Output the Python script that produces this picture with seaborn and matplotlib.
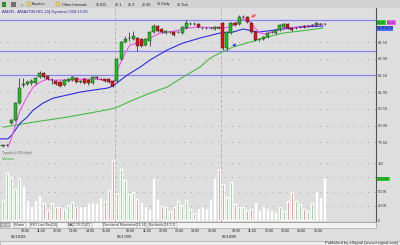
import matplotlib
matplotlib.use("Agg")
import numpy as np
import pandas as pd
import matplotlib.pyplot as plt
from matplotlib.patches import Rectangle
import seaborn as sns

# ---------------- data ----------------
symbol_title = "AMZN - AMAZON INC,15] Dynamic,5/28 15:00"
day_labels = ["06/16/09", "06/17/09", "06/18/09"]
hour_labels = ["10:00", "11:00", "12:00", "13:00", "14:00", "15:00"]
pre_bars = 2          # last two bars of the previous session
bars_per_day = 26     # 15-minute bars 9:30 .. 15:45

opens = [79.40, 79.41,
         80.07, 80.16, 80.67, 81.21, 81.24, 81.27, 81.27, 81.45, 81.57, 81.48, 81.36, 81.33, 81.30,
         81.21, 81.33, 81.36, 81.42, 81.31, 81.39, 81.36, 81.27, 81.45, 81.40, 81.39, 81.39, 81.33,
         81.33, 81.99, 82.50, 82.62, 82.59, 82.62, 82.59, 82.42, 82.53, 82.80, 82.99, 82.89, 82.77,
         82.80, 82.80, 82.80, 82.77, 82.92, 83.04, 83.04, 83.04, 82.92, 82.93, 82.93, 82.89, 82.94,
         83.07, 82.32, 82.77, 83.07, 83.04, 83.25, 83.25, 83.07, 82.80, 82.59, 82.59, 82.65, 82.80,
         82.77, 82.86, 82.95, 83.04, 82.92, 82.92, 82.95, 82.98, 82.98, 83.01, 83.01, 83.04, 83.04]
highs = [79.43, 79.46,
         80.19, 80.70, 81.42, 81.42, 81.36, 81.38, 81.46, 81.63, 81.60, 81.51, 81.42, 81.36, 81.33,
         81.39, 81.42, 81.48, 81.45, 81.36, 81.42, 81.39, 81.48, 81.48, 81.43, 81.42, 81.42, 81.36,
         82.02, 82.53, 82.68, 82.80, 82.83, 82.65, 82.62, 82.62, 82.83, 83.04, 83.02, 82.92, 82.86,
         82.83, 82.83, 82.83, 82.98, 83.16, 83.10, 83.10, 83.07, 82.95, 82.95, 82.95, 82.98, 82.96,
         83.10, 82.83, 83.10, 83.10, 83.31, 83.31, 83.28, 83.10, 82.83, 82.62, 82.68, 82.80, 82.83,
         82.89, 83.04, 83.07, 83.07, 82.95, 82.95, 82.98, 83.01, 83.01, 83.04, 83.10, 83.07, 83.07]
lows = [79.37, 79.39,
        80.04, 80.13, 80.64, 81.15, 81.20, 81.22, 81.24, 81.42, 81.42, 81.35, 81.24, 81.20, 81.15,
        81.18, 81.30, 81.33, 81.27, 81.27, 81.24, 81.22, 81.24, 81.39, 81.36, 81.30, 81.27, 81.15,
        81.30, 81.96, 82.47, 82.54, 82.56, 82.24, 82.36, 82.39, 82.39, 82.77, 82.80, 82.77, 82.74,
        82.77, 82.68, 82.77, 82.74, 82.89, 83.01, 83.01, 82.92, 82.89, 82.89, 82.89, 82.86, 82.88,
        82.26, 82.26, 82.74, 82.98, 83.01, 83.22, 83.07, 82.77, 82.53, 82.53, 82.56, 82.62, 82.77,
        82.74, 82.83, 82.92, 82.89, 82.83, 82.89, 82.92, 82.92, 82.95, 82.98, 82.98, 83.01, 83.01]
closes = [79.41, 79.43,
          80.16, 80.67, 81.12, 81.24, 81.30, 81.33, 81.42, 81.57, 81.45, 81.39, 81.37, 81.24, 81.18,
          81.36, 81.39, 81.45, 81.30, 81.32, 81.27, 81.27, 81.45, 81.42, 81.39, 81.33, 81.30, 81.18,
          81.99, 82.50, 82.59, 82.63, 82.68, 82.39, 82.39, 82.59, 82.80, 82.99, 82.84, 82.80, 82.84,
          82.81, 82.71, 82.81, 82.95, 83.07, 83.05, 83.05, 82.95, 82.93, 82.92, 82.91, 82.95, 82.91,
          82.32, 82.80, 83.07, 83.01, 83.25, 83.26, 83.10, 82.80, 82.56, 82.58, 82.65, 82.77, 82.81,
          82.86, 83.01, 83.04, 82.92, 82.86, 82.93, 82.96, 82.95, 82.99, 83.02, 83.07, 83.05, 83.05]
volumes_m = [0.35, 0.83,
             0.76, 0.54, 0.74, 0.60, 0.33, 0.22, 0.33, 0.42, 0.30, 0.18, 0.30, 0.23, 0.22,
             0.19, 0.26, 0.31, 0.23, 0.22, 0.23, 0.28, 0.29, 0.28, 0.39, 0.34, 0.53, 1.05,
             0.48, 0.89, 0.70, 0.46, 0.50, 0.36, 0.29, 0.22, 0.17, 0.72, 0.35, 0.24, 0.22,
             0.15, 0.23, 0.33, 0.26, 0.35, 0.19, 0.13, 0.19, 0.22, 0.19, 0.35, 0.72, 0.89,
             0.64, 0.41, 0.67, 0.28, 0.22, 0.22, 0.17, 0.19, 0.30, 0.15, 0.22, 0.19, 0.16,
             0.13, 0.22, 0.15, 0.33, 0.50, 0.33, 0.28, 0.19, 0.15, 0.30, 0.50, 0.38, 0.72]

# moving averages (bar index, price)
fast_ma_x = [1.2, 1.7, 2.9, 4.2, 5.9, 7.4, 9.1, 10.8, 12.3, 15.7, 18.9, 22.1, 25.6, 27.3, 28.3,
             29.2, 30.0, 31.2, 33.7, 36.1, 38.6, 41.8, 45.2, 48.4, 52.6, 53.8, 55.8, 57.3, 59.0,
             60.4, 61.9, 63.1, 64.4, 66.3, 68.8, 73.0, 76.7, 78.6]
fast_ma_y = [79.36, 79.48, 79.95, 80.46, 80.85, 81.15, 81.30, 81.39, 81.36, 81.36, 81.39, 81.39,
             81.36, 81.30, 81.72, 81.96, 82.17, 82.41, 82.50, 82.62, 82.77, 82.82, 82.92, 82.95,
             82.92, 82.92, 82.95, 83.07, 83.19, 83.16, 82.92, 82.77, 82.74, 82.80, 82.92, 82.95,
             83.01, 83.04]
mid_ma_x = [-0.7, 1.2, 2.2, 4.2, 5.9, 7.4, 9.8, 12.3, 15.7, 18.9, 22.1, 25.6, 27.0, 30.5, 33.7,
            36.1, 40.3, 44.2, 48.4, 53.3, 56.5, 59.0, 62.7, 64.9, 68.8, 73.0, 78.6]
mid_ma_y = [79.60, 79.60, 79.72, 80.07, 80.25, 80.46, 80.67, 80.82, 80.91, 81.00, 81.06, 81.12,
            81.18, 81.51, 81.75, 81.96, 82.26, 82.47, 82.62, 82.77, 82.80, 82.89, 82.80, 82.83,
            82.89, 82.95, 82.98]
slow_ma_x = [0.0, 7.4, 15.7, 23.8, 27.5, 31.9, 36.1, 40.3, 44.2, 48.4, 50.9, 53.3, 56.5, 60.7,
             64.9, 68.8, 73.0, 78.6]
slow_ma_y = [79.95, 80.10, 80.25, 80.43, 80.52, 80.76, 80.97, 81.15, 81.45, 81.75, 82.02, 82.17,
             82.35, 82.50, 82.65, 82.77, 82.83, 82.92]

level_lines = [83.16, 82.23, 81.51]
price_ticks = [79.5, 80.0, 80.5, 81.0, 81.5, 82.0, 82.5]
volume_ticks = [0, 0.25, 0.5, 1.0]
volume_tick_labels = ["0", "250K", "500K", "1M"]

# hand-drawn arrows: (tail bar, tail price) -> (tip bar, tip price)
red_arrow = [(62.7, 83.37), (60.4, 83.19)]
blue_arrow = [(57.9, 82.41), (55.6, 82.41)]

toolbar_items = [("+", 21), ("Equities", 32), ("Other Intervals", 62), ("\u2299 IDC", 96),
                 ("\u2299 1", 115), ("\u2299 3", 128), ("\u2299 60", 142), ("\u2299 Daily", 157),
                 ("\u2299 Tick", 177)]
tab_items = [("Volume", 14), ("SSO Last Bar(14)", 30), ("MA(2,10,20)(C)", 68),
             ("Directional Movement(14,14)", 103), ("Stochastic(14,3,3)", 149)]

# ---------------- style ----------------
sns.set_style("white")
plt.rcParams["font.family"] = ["Liberation Sans", "DejaVu Sans"]

BG = "#dedede"
UP, DOWN = "#19c419", "#e41010"
VUP, VDOWN = "#5cc45c", "#e86060"
W, H = 400, 245

def fx(px):
    return px / W

def fy(py):
    return 1 - py / H

df = pd.DataFrame({"open": opens, "high": highs, "low": lows, "close": closes, "vol": volumes_m})
df["bar"] = np.arange(len(df))
df["up"] = df["close"] >= df["open"]

fig = plt.figure(figsize=(4.0, 2.45), dpi=100)
fig.patch.set_facecolor(BG)

ax = fig.add_axes([0, fy(156), fx(376), (156 - 8) / H])
axv = fig.add_axes([0, fy(222), fx(376), (222 - 156) / H], sharex=ax)
for a in (ax, axv):
    a.set_facecolor(BG)
    for s in ("left", "top"):
        a.spines[s].set_visible(False)
    a.spines["right"].set_color("#505050")
    a.spines["right"].set_linewidth(0.8)
    a.spines["bottom"].set_color("#777777")
    a.spines["bottom"].set_linewidth(0.8)
    a.yaxis.tick_right()
    a.tick_params(axis="y", length=0, pad=1.5, labelsize=3.0, labelcolor="#404040")
    a.tick_params(axis="x", length=0, labelbottom=False)

ax.set_xlim(-0.74, 91.65)
ax.set_ylim(79.087, 83.52)
axv.set_ylim(-0.035, 1.123)

# grids
for p in price_ticks:
    ax.axhline(p, color="#a8a8a8", lw=0.7, ls=(0, (1, 6)), zorder=0)
for v in volume_ticks[1:] + [0.75]:
    axv.axhline(v, color="#a8a8a8", lw=0.7, ls=(0, (1, 6)), zorder=0)
for d in range(1, len(day_labels)):
    sep = pre_bars + d * bars_per_day - 0.4
    for a in (ax, axv):
        a.axvline(sep, color="#b4b4b4", lw=0.7, ls=(0, (3, 2)), zorder=0)

ax.set_yticks(price_ticks)
ax.set_yticklabels([f"{p:.2f}" for p in price_ticks])
axv.set_yticks(volume_ticks)
axv.set_yticklabels(volume_tick_labels)

# level lines
for lv in level_lines:
    ax.axhline(lv, color="#8585f0", lw=0.9, zorder=1)

# moving averages
sns.lineplot(x=slow_ma_x, y=slow_ma_y, ax=ax, color="#49b849", lw=0.8, zorder=2)
sns.lineplot(x=mid_ma_x, y=mid_ma_y, ax=ax, color="#2d2de0", lw=0.8, zorder=2)
sns.lineplot(x=fast_ma_x, y=fast_ma_y, ax=ax, color="#f050f0", lw=0.8, zorder=2)

# candles
ax.vlines(df["bar"], df["low"], df["high"], color="#202020", lw=0.5, zorder=3)
body_lo = df[["open", "close"]].min(axis=1)
body_h = (df["close"] - df["open"]).abs().clip(lower=0.006)
ax.bar(df["bar"], body_h, bottom=body_lo, width=0.75,
       color=np.where(df["up"], UP, DOWN), edgecolor="#202020", linewidth=0.3, zorder=4)

# arrows
ax.annotate("", xy=red_arrow[1], xytext=red_arrow[0],
            arrowprops=dict(arrowstyle="->", color="#ff4040", lw=0.7, mutation_scale=4), zorder=5)
ax.annotate("", xy=blue_arrow[1], xytext=blue_arrow[0],
            arrowprops=dict(arrowstyle="->", color="#3030ff", lw=0.7, mutation_scale=4), zorder=5)

# volume
axv.bar(df["bar"], df["vol"], width=0.4, color=np.where(df["up"], VUP, VDOWN), zorder=2)

# texts inside panels
ax.text(0.005, 0.985, symbol_title, transform=ax.transAxes, ha="left", va="top",
        fontsize=3.0, color="#2424a0")
ax.text(0.005, 0.01, "Copyright (c) 2009 eSignal", transform=ax.transAxes, ha="left",
        va="bottom", fontsize=1.8, color="#606060")
axv.text(0.005, 0.985, "Volume", transform=axv.transAxes, ha="left", va="top",
         fontsize=3.0, color="#30b030")

# last value boxes on price axis
trans_p = ax.get_yaxis_transform()
ax.text(1.003, closes[-1] + 0.03, f"{closes[-1]:.2f}", transform=trans_p, ha="left", va="center",
        fontsize=2.4, color="#104010", bbox=dict(boxstyle="square,pad=0.1", fc="#30d030", ec="none"),
        clip_on=False)
ax.text(1.030, closes[-1] + 0.03, f"{fast_ma_y[-1]:.2f}", transform=trans_p, ha="left", va="center",
        fontsize=2.4, color="#501050", bbox=dict(boxstyle="square,pad=0.1", fc="#f060f0", ec="none"),
        clip_on=False)
ax.text(1.003, mid_ma_y[-1] - 0.07, f"{mid_ma_y[-1]:.2f} {slow_ma_y[-1]:.2f}", transform=trans_p,
        ha="left", va="center", fontsize=2.2, color="#101050",
        bbox=dict(boxstyle="square,pad=0.1", fc="#4a6af0", ec="none"), clip_on=False)
axv.text(1.003, volumes_m[-1], f"{int(round(volumes_m[-1] * 1e6)):,}", transform=axv.get_yaxis_transform(),
         ha="left", va="center", fontsize=2.4, color="#104010",
         bbox=dict(boxstyle="square,pad=0.1", fc="#30d030", ec="none"), clip_on=False)

# toolbar
fig.add_artist(Rectangle((0, fy(8)), 1, 8 / H, transform=fig.transFigure, fc="#d2d2d2", ec="none"))
fig.add_artist(Rectangle((fx(2), fy(7)), 4 / W, 5 / H, transform=fig.transFigure, fc="#2f8f2f", ec="none"))
fig.add_artist(Rectangle((fx(11), fy(7)), 5 / W, 5 / H, transform=fig.transFigure, fc="#707070", ec="none"))
for label, px in toolbar_items:
    fig.text(fx(px), fy(4.5), label, ha="left", va="center", fontsize=2.7, color="#202020")
for px in (27, 56):
    fig.add_artist(Rectangle((fx(px), fy(6.5)), 4 / W, 4 / H, transform=fig.transFigure,
                             fc="#e8d070", ec="#907020", lw=0.2))

# tab bar
fig.add_artist(Rectangle((0, fy(228)), fx(376), 6 / H, transform=fig.transFigure,
                         fc="#f2f2f2", ec="#9a9a9a", lw=0.4))
for px in (1, 6):
    fig.add_artist(Rectangle((fx(px), fy(227)), 4 / W, 4 / H, transform=fig.transFigure,
                             fc="#d0d0d0", ec="#606060", lw=0.3))
for label, px in tab_items:
    fig.text(fx(px), fy(225), label, ha="left", va="center", fontsize=2.4, color="#303030",
             bbox=dict(boxstyle="square,pad=0.15", fc="#fafafa", ec="#8a8a8a", lw=0.3))

# time axis labels
axt = fig.add_axes([0, fy(241), fx(376), (241 - 228) / H], sharex=ax)
axt.set_axis_off()
for d, dl in enumerate(day_labels):
    start = pre_bars + d * bars_per_day
    axt.text(start - 0.1, 0.12, dl, ha="left", va="bottom", fontsize=2.8, color="#202020")
    for h, hl in enumerate(hour_labels):
        axt.text(start + 2 + 4 * h + 0.25, 0.62, hl, ha="left", va="bottom", fontsize=2.6,
                 color="#202020")

# status bar
fig.add_artist(Rectangle((0, 0), 1, 4.5 / H, transform=fig.transFigure, fc="#ececec",
                         ec="#a0a0a0", lw=0.4))
fig.text(fx(398), fy(242.6), "Published by eSignal (www.esignal.com)", ha="right", va="center",
         fontsize=3.0, color="#303030")

fig.savefig("out.png", dpi=100, facecolor=fig.get_facecolor())
